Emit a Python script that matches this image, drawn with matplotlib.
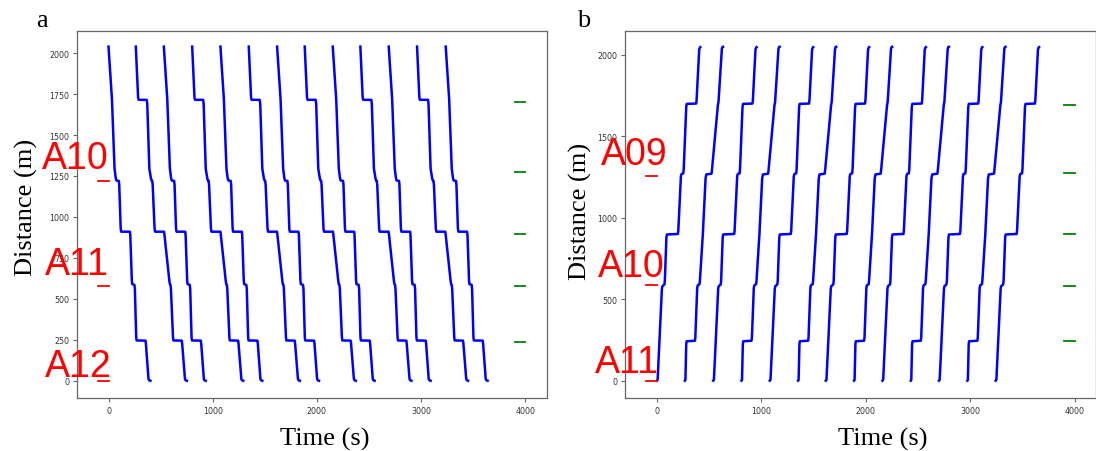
import matplotlib
matplotlib.use("Agg")
import matplotlib.pyplot as plt
import numpy as np

# departure times (s) of each train
left_starts = [0, 262, 531, 803, 1074, 1346, 1618, 1883, 2152, 2417, 2689, 2961, 3236]
right_starts = [0, 268, 539, 810, 1081, 1352, 1617, 1888, 2160, 2431, 2701, 2973, 3244]
train_types = ["A", "B", "A", "B", "A", "B", "A", "B", "A", "B", "A", "B", "A"]

# trajectory profiles: time since departure (s) and distance (m)
left_a_t = [0, 33, 58, 70, 77, 99, 103, 117, 122, 205, 209, 224, 228, 249, 253, 266, 270, 355, 359, 384, 392, 402]
left_a_d = [2040, 1720, 1295, 1235, 1222, 1220, 1195, 930, 910, 910, 890, 610, 590, 585, 560, 265, 246, 245, 225, 10, 2, 0]
left_b_t = [0, 22, 27, 105, 110, 130, 146, 153, 158, 162, 180, 185, 271, 275, 322, 327, 333, 337, 357, 361, 441, 445, 472, 480, 490]
left_b_d = [2040, 1730, 1715, 1715, 1690, 1295, 1232, 1221, 1220, 1195, 930, 910, 910, 890, 610, 590, 585, 560, 265, 246, 245, 225, 10, 2, 0]

right_a_t = [0, 7, 48, 53, 72, 76, 91, 96, 201, 205, 230, 236, 253, 257, 281, 286, 376, 380, 405, 410, 416]
right_a_d = [0, 6, 565, 580, 590, 612, 878, 897, 900, 920, 1255, 1268, 1272, 1300, 1680, 1698, 1700, 1720, 2030, 2042, 2046]
right_b_t = [0, 5, 13, 17, 96, 100, 118, 123, 140, 144, 172, 198, 205, 255, 259, 316, 322, 354, 359, 365]
right_b_d = [0, 4, 225, 242, 245, 265, 570, 585, 592, 615, 900, 1240, 1265, 1270, 1290, 1690, 1710, 2035, 2046, 2048]

# station markers
left_station_y = [1220, 580, 0]
left_station_names = ["A10", "A11", "A12"]
left_name_pos = [(-639, 1300), (-607, 650), (-607, 30)]
right_station_y = [1255, 585, 0]
right_station_names = ["A09", "A10", "A11"]
right_name_pos = [(-532, 1327), (-564, 643), (-596, 51)]

left_signal_y = [1703, 1272, 896, 578, 236]
right_signal_y = [1694, 1272, 898, 582, 241]

fig = plt.figure(figsize=(10.96, 4.52), dpi=100)
ax1 = fig.add_axes([0.070, 0.1166, 0.4288, 0.8133])
ax2 = fig.add_axes([0.5703, 0.1166, 0.4297, 0.8133])

panels = [
    (ax1, left_starts, (left_a_t, left_a_d), (left_b_t, left_b_d), left_station_y,
     left_station_names, left_name_pos, left_signal_y, (-107, 2137), np.arange(0, 2001, 250)),
    (ax2, right_starts, (right_a_t, right_a_d), (right_b_t, right_b_d), right_station_y,
     right_station_names, right_name_pos, right_signal_y, (-108, 2147), np.arange(0, 2001, 500)),
]

for ax, starts, prof_a, prof_b, st_y, st_names, name_pos, sig_y, ylim, yticks in panels:
    for s, kind in zip(starts, train_types):
        pt, pd_ = prof_a if kind == "A" else prof_b
        ax.plot(s + np.array(pt), pd_, color="blue", lw=1.8)
    for y in st_y:
        ax.plot([-100, 0], [y, y], color="red", lw=1.3)
    for name, (x, y) in zip(st_names, name_pos):
        ax.text(x, y, name, color="red", fontsize=27, family="Liberation Sans")
    for y in sig_y:
        ax.plot([3900, 4000], [y, y], color="green", lw=1.3)

    ax.set_xlim(-305, 4205)
    ax.set_ylim(*ylim)
    ax.set_xticks([0, 1000, 2000, 3000, 4000])
    ax.set_yticks(yticks)
    ax.tick_params(labelsize=5.7, labelcolor="#333333", color="#666666", length=3, pad=2.5)
    for sp in ax.spines.values():
        sp.set_color("#666666")
        sp.set_linewidth(0.9)

ax1.set_xlabel("Time (s)", fontsize=19, family="Liberation Serif")
ax1.xaxis.set_label_coords(0.527, -0.108)
ax1.xaxis.label.set_va("center")
ax1.set_ylabel("Distance (m)", fontsize=19, family="Liberation Serif")
ax1.yaxis.set_label_coords(-0.108, 0.523)
ax1.yaxis.label.set_va("center")

ax2.set_xlabel("Time (s)", fontsize=19, family="Liberation Serif")
ax2.xaxis.set_label_coords(0.547, -0.108)
ax2.xaxis.label.set_va("center")
ax2.set_ylabel("Distance (m)", fontsize=19, family="Liberation Serif")
ax2.yaxis.set_label_coords(-0.095, 0.51)
ax2.yaxis.label.set_va("center")

fig.text(0.0328, 0.941, "a", fontsize=19, family="Liberation Serif")
fig.text(0.5265, 0.941, "b", fontsize=19, family="Liberation Serif")

fig.savefig("out.png", dpi=100)
